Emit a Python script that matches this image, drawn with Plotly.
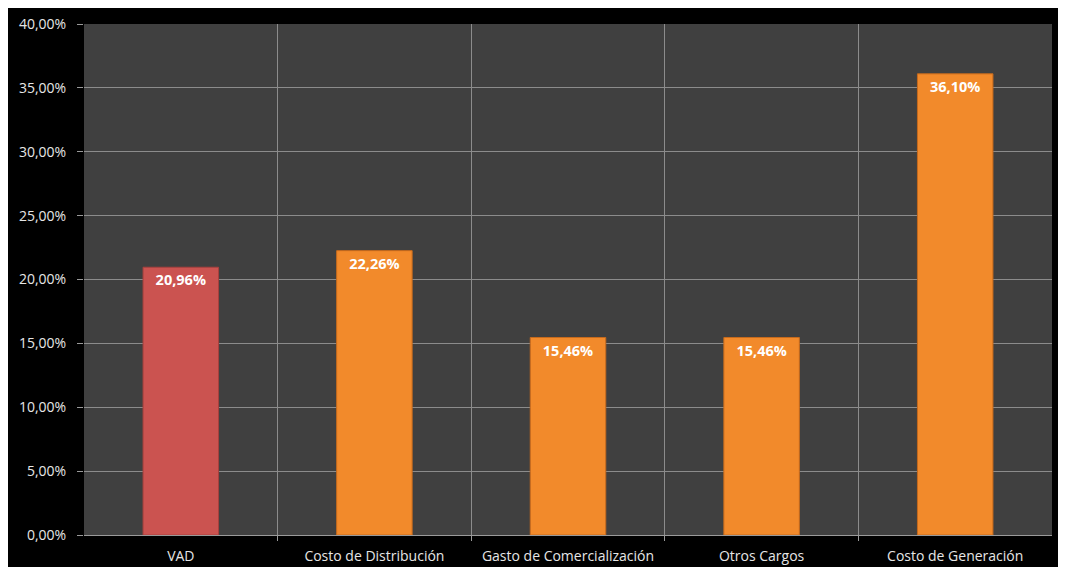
import plotly.graph_objects as go

categories = ["VAD", "Costo de Distribución", "Gasto de Comercialización", "Otros Cargos", "Costo de Generación"]
values = [0.2096, 0.2226, 0.1546, 0.1546, 0.3610]
bar_colors = ["#CB5350", "#F28A2B", "#F28A2B", "#F28A2B", "#F28A2B"]
line_colors = ["#A8403D", "#C66A1C", "#C66A1C", "#C66A1C", "#C66A1C"]
y_ticks = [0, 0.05, 0.10, 0.15, 0.20, 0.25, 0.30, 0.35, 0.40]

idx = list(range(len(categories)))
boundaries = [i + 0.5 for i in idx[:-1]]

fig = go.Figure()
fig.add_trace(go.Bar(
    x=idx, y=values, width=0.39,
    marker=dict(color=bar_colors, line=dict(color=line_colors, width=1)),
    texttemplate="%{y:.2%}", textposition="inside", insidetextanchor="end",
    textfont=dict(color="white", size=14.5, family="Open Sans", weight="bold"),
    textangle=0, showlegend=False,
))
fig.add_trace(go.Scatter(x=boundaries, y=[None]*len(boundaries), xaxis="x2", showlegend=False, hoverinfo="skip"))

fig.update_layout(
    width=1058, height=566,
    paper_bgcolor="white", plot_bgcolor="rgba(0,0,0,0)",
    separators=",.",
    margin=dict(l=76, r=14, t=16, b=39, autoexpand=False),
    font=dict(family="Open Sans", color="#E6E6E6", size=12),
    xaxis=dict(range=[-0.5, 4.5], tickvals=idx, ticktext=categories, showgrid=False,
               zeroline=False, showline=True, linecolor="#9A9A9A", ticks="",
               tickfont=dict(size=14, color="#E6E6E6"), ticklabelstandoff=8),
    xaxis2=dict(range=[-0.5, 4.5], overlaying="x", tickvals=boundaries, showticklabels=False,
                showgrid=True, gridcolor="#8C8C8C", gridwidth=1, ticks="outside", ticklen=5,
                tickcolor="#9A9A9A", zeroline=False, side="bottom"),
    yaxis=dict(range=[0, 0.40], tickvals=y_ticks, tickformat=".2%", showgrid=True,
               gridcolor="#8C8C8C", gridwidth=1, zeroline=False, showline=False,
               ticks="outside", ticklen=6, tickcolor="#9A9A9A", ticklabelstandoff=8,
               tickfont=dict(size=14, color="#E6E6E6")),
    shapes=[
        dict(type="rect", xref="paper", yref="paper", x0=-77/968, x1=1 + 8/968, y0=-32/511, y1=1 + 17/511,
             fillcolor="black", line=dict(width=0), layer="below"),
        dict(type="rect", xref="paper", yref="paper", x0=0, x1=1, y0=0, y1=1,
             fillcolor="#404040", line=dict(width=0), layer="below"),
    ],
)
fig.write_html("out.html")
